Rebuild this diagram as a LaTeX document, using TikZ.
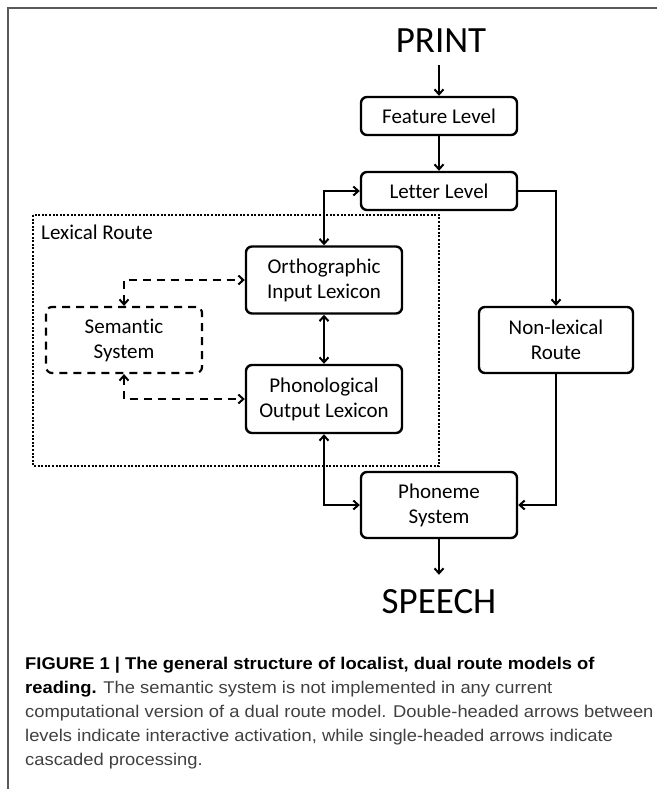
\documentclass[tikz,border=0pt]{standalone}
\usepackage{fontspec}
\setmainfont[Ligatures=NoCommon]{Carlito}
\newfontfamily\capfont[FakeStretch=1.08]{Liberation Sans}
\usetikzlibrary{arrows.meta}
\begin{document}
\begin{tikzpicture}[x=1pt,y=-1pt,
  box/.style={draw, line width=2.4pt, rounded corners=6pt, minimum width=156pt, align=center, inner sep=0pt, font=\fontsize{21}{25}\selectfont},
  dbox/.style={box, line width=2.2pt, dash pattern=on 8pt off 6pt},
  conn/.style={line width=2pt, -{Straight Barb[length=5pt,width=9pt]}},
  dconn/.style={line width=2pt, {Straight Barb[length=5pt,width=9pt]}-{Straight Barb[length=5pt,width=9pt]}},
  dashconn/.style={dconn, dash pattern=on 8pt off 6pt},
  big/.style={font=\fontsize{37}{40}\selectfont, inner sep=0pt, anchor=base},
  frame/.style={draw=black!65, line width=1.5pt},
  lexbox/.style={line width=2.2pt, dash pattern=on 2pt off 1.6pt}
]
\useasboundingbox (0,0) rectangle (657,789);
\draw[frame] (657,8) -- (8,8) -- (8,789);

\node[big] (print) at (441,53) {PRINT};
\node[box, minimum height=38pt] (feat) at (439,116) {Feature Level};
\node[box, minimum height=38pt] (letter) at (439,191) {Letter Level};

\draw[lexbox] (33,215) rectangle (439,466);
\node[anchor=base west, inner sep=0pt, font=\fontsize{21}{25}\selectfont] (lexlab) at (41,239) {Lexical Route};

\node[box, minimum height=67pt] (ortho) at (324,280) {Orthographic\\Input Lexicon};
\node[box, minimum height=68pt] (phono) at (324,399) {Phonological\\Output Lexicon};
\node[dbox, minimum width=156pt, minimum height=66pt] (sem) at (124,340) {Semantic\\System};
\node[box, minimum width=154pt, minimum height=66pt] (nonlex) at (556,340) {Non-lexical\\Route};
\node[box, minimum height=66pt] (phon) at (439,505) {Phoneme\\System};
\node[big] (speech) at (439,613) {SPEECH};

\draw[conn, shorten <=12pt] (print.south -| feat.north) -- (feat.north);
\draw[conn] (feat.south) -- (letter.north);
\draw[dconn] (letter.west) -| (ortho.north);
\draw[conn] (letter.east) -| (nonlex.north);
\draw[conn] (nonlex.south) |- (phon.east);
\draw[dconn] (ortho.south) -- (phono.north);
\draw[dconn] (phono.south) |- (phon.west);
\draw[dashconn] (sem.north) |- (ortho.west);
\draw[dashconn] (sem.south) |- (phono.west);
\draw[conn, shorten >=14pt] (phon.south) -- (speech.north);

\node[anchor=north west, align=left, inner sep=0pt, text=black!75,
  font=\capfont\fontsize{17}{24}\selectfont] (caption) at (25,657)
  {\textcolor{black}{\bfseries FIGURE 1 | The general structure of localist, dual route models of}\\
   \textcolor{black}{\bfseries reading.} The semantic system is not implemented in any current\\
   computational version of a dual route model. Double-headed arrows between\\
   levels indicate interactive activation, while single-headed arrows indicate\\
   cascaded processing.};
\end{tikzpicture}
\end{document}
